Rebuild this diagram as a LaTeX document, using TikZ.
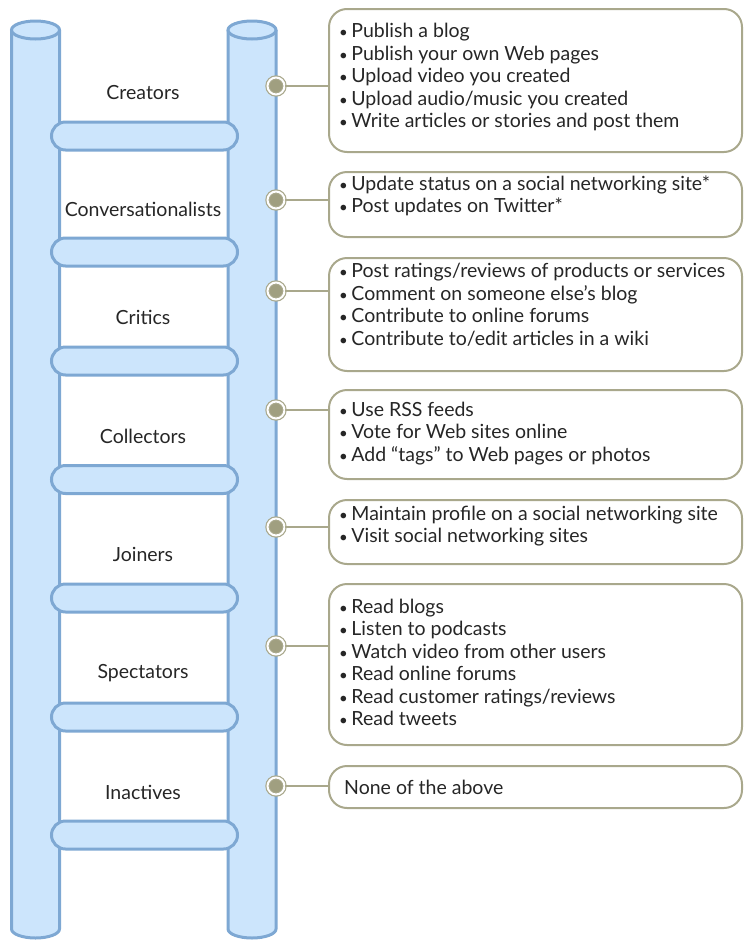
\documentclass[tikz,border=0pt]{standalone}
\usepackage{fontspec}
\setmainfont{Lato}
\usetikzlibrary{positioning}
\definecolor{poleblue}{HTML}{CCE5FC}
\definecolor{poleline}{HTML}{7EA8D3}
\definecolor{olive}{HTML}{A9A88C}
\definecolor{dotolive}{HTML}{A09F80}
\newcommand{\bul}{{\fontsize{15}{15}\selectfont•}\hspace{0.18em}}
\tikzset{
  pole/.style ={draw=poleline, fill=poleblue, line width=3pt},
  rung/.style ={draw=poleline, fill=poleblue, line width=3pt, rounded corners=14pt,
                minimum width=186pt, minimum height=28pt, inner sep=0pt},
  lbl/.style  ={font=\fontsize{19.5}{20}\selectfont, text=black!85},
  box/.style  ={draw=olive, line width=2pt, rounded corners=18pt, minimum width=413pt,
                inner sep=0pt, anchor=north west},
  list/.style ={font=\fontsize{19.5}{22.5}\selectfont, text=black!85, align=left,
                anchor=west, inner sep=0pt},
  dot/.style  ={circle, fill=dotolive, draw=olive, double=white, line width=1.2pt,
                double distance=2pt, minimum size=17pt, inner sep=0pt},
  link/.style ={draw=olive, line width=2pt}
}

\begin{document}
\begin{tikzpicture}[x=1pt, y=-1pt]
\useasboundingbox (0,0) rectangle (746,940);

% the two poles
\draw[pole] (11.5,30) -- (11.5,929) arc[start angle=180, end angle=0, x radius=24, y radius=9] -- (59.5,30);
\draw[pole] (35.5,30) ellipse[x radius=24, y radius=9];
\draw[pole] (228,30) -- (228,929) arc[start angle=180, end angle=0, x radius=24, y radius=9] -- (276,30);
\draw[pole] (252,30) ellipse[x radius=24, y radius=9];

% rungs
\node[rung] (r1) at (144.5,136) {};
\node[rung] (r2) at (144.5,252) {};
\node[rung] (r3) at (144.5,361) {};
\node[rung] (r4) at (144.5,479.5) {};
\node[rung] (r5) at (144.5,598) {};
\node[rung] (r6) at (144.5,717) {};
\node[rung] (r7) at (144.5,835) {};

% steps of the ladder
\node[lbl] (creators)  at (143,93)  {Creators};
\node[lbl] (conv)      at (143,209) {Conversationalists};
\node[lbl] (critics)   at (143,317) {Critics};
\node[lbl] (collect)   at (143,436) {Collectors};
\node[lbl] (joiners)   at (143,554) {Joiners};
\node[lbl] (spect)     at (143,673) {Spectators};
\node[lbl] (inact)     at (143,792) {Inactives};

% activity boxes
\node[box, minimum height=143pt] (b1) at (328,8)   {};
\node[box, minimum height=65pt]  (b2) at (328,171) {};
\node[box, minimum height=113pt] (b3) at (328,257) {};
\node[box, minimum height=89pt]  (b4) at (328,389) {};
\node[box, minimum height=64pt]  (b5) at (328,499) {};
\node[box, minimum height=161pt] (b6) at (328,583) {};
\node[box, minimum height=42pt]  (b7) at (328,765) {};

\node[list] (t1) at (339,77) {\bul Publish a blog\\ \bul Publish your own Web pages\\
  \bul Upload video you created\\ \bul Upload audio/music you created\\
  \bul Write articles or stories and post them};
\node[list] (t2) at (339,196) {\bul Update status on a social networking site*\\
  \bul Post updates on Twitter*};
\node[list] (t3) at (339,305) {\bul Post ratings/reviews of products or services\\
  \bul Comment on someone else’s blog\\ \bul Contribute to online forums\\
  \bul Contribute to/edit articles in a wiki};
\node[list] (t4) at (339,433.5) {\bul Use RSS feeds\\ \bul Vote for Web sites online\\
  \bul Add “tags” to Web pages or photos};
\node[list] (t5) at (339,526) {\bul Maintain profile on a social networking site\\
  \bul Visit social networking sites};
\node[list] (t6) at (339,662.5) {\bul Read blogs\\ \bul Listen to podcasts\\
  \bul Watch video from other users\\ \bul Read online forums\\
  \bul Read customer ratings/reviews\\ \bul Read tweets};
\node[list] (t7) at (344,787) {None of the above};

% dots and links
\node[dot] (d1) at (276,86)  {};
\node[dot] (d2) at (276,200) {};
\node[dot] (d3) at (276,291) {};
\node[dot] (d4) at (276,410) {};
\node[dot] (d5) at (276,527) {};
\node[dot] (d6) at (276,646) {};
\node[dot] (d7) at (276,786) {};
\draw[link] (d1.east) -- (d1.east -| b1.west);
\draw[link] (d2.east) -- (d2.east -| b2.west);
\draw[link] (d3.east) -- (d3.east -| b3.west);
\draw[link] (d4.east) -- (d4.east -| b4.west);
\draw[link] (d5.east) -- (d5.east -| b5.west);
\draw[link] (d6.east) -- (d6.east -| b6.west);
\draw[link] (d7.east) -- (d7.east -| b7.west);
\end{tikzpicture}
\end{document}
